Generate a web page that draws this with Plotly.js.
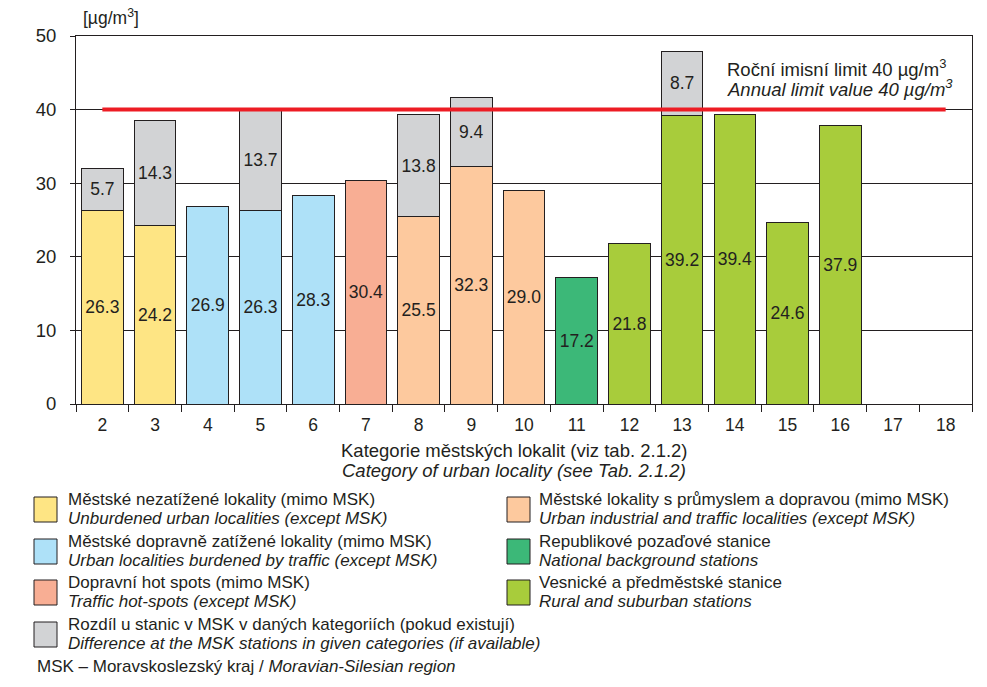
<!DOCTYPE html>
<html>
<head>
<meta charset="utf-8">
<script src="https://cdn.plot.ly/plotly-3.0.1.min.js"></script>
<style>html,body{margin:0;padding:0;background:#fff;}#chart{width:987px;height:687px;}</style>
</head>
<body>
<div id="chart"></div>
<script>
// ---- data ----
const categories = ['2','3','4','5','6','7','8','9','10','11','12','13','14','15','16','17','18'];
const baseValues = [26.3, 24.2, 26.9, 26.3, 28.3, 30.4, 25.5, 32.3, 29.0, 17.2, 21.8, 39.2, 39.4, 24.6, 37.9, null, null];
const mskDifference = [5.7, 14.3, null, 13.7, null, null, 13.8, 9.4, null, null, null, 8.7, null, null, null, null, null];
const groupIndex = [0, 0, 1, 1, 1, 2, 3, 3, 3, 4, 5, 5, 5, 5, 5, null, null];
const groupNamesCz = [
  'Městské nezatížené lokality (mimo MSK)',
  'Městské dopravně zatížené lokality (mimo MSK)',
  'Dopravní hot spots (mimo MSK)',
  'Městské lokality s průmyslem a dopravou (mimo MSK)',
  'Republikové pozaďové stanice',
  'Vesnické a předměstské stanice'
];
const groupNamesEn = [
  'Unburdened urban localities (except MSK)',
  'Urban localities burdened by traffic (except MSK)',
  'Traffic hot-spots (except MSK)',
  'Urban industrial and traffic localities (except MSK)',
  'National background stations',
  'Rural and suburban stations'
];
const diffNameCz = 'Rozdíl u stanic v MSK v daných kategoriích (pokud existují)';
const diffNameEn = 'Difference at the MSK stations in given categories (if available)';
const limitValue = 40;
const limitRange = ['2', '18'];
const yTicks = [0, 10, 20, 30, 40, 50];

// ---- styles ----
const groupColors = ['#fee584', '#aee1f8', '#f8ae94', '#fdc99e', '#3cb878', '#a8cc3b'];
const diffColor = '#d2d3d5';
const ink = '#231f20';
const FONT = 'Liberation Sans, Arial, sans-serif';

// layout geometry (pixels)
const W = 987, H = 687;
const L = 76, R = 972, T = 36, B = 404;
const px = x => (x - L) / (R - L);
const py = y => (B - y) / (B - T);

// keep only existing values per trace
const baseIdx = categories.map((c, i) => i).filter(i => baseValues[i] !== null);
const diffIdx = categories.map((c, i) => i).filter(i => mskDifference[i] !== null);

const barText = { family: FONT, size: 17.5, color: ink };
const traces = [
  {
    type: 'bar', x: baseIdx.map(i => categories[i]), y: baseIdx.map(i => baseValues[i]),
    marker: { color: baseIdx.map(i => groupColors[groupIndex[i]]), line: { color: ink, width: 1 } },
    texttemplate: '%{y:.1f}', textposition: 'inside', insidetextanchor: 'middle',
    textfont: barText, textangle: 0, constraintext: 'none',
    hoverinfo: 'x+y', showlegend: false
  },
  {
    type: 'bar', x: diffIdx.map(i => categories[i]), y: diffIdx.map(i => mskDifference[i]),
    marker: { color: diffColor, line: { color: ink, width: 1 } },
    texttemplate: '%{y:.1f}', textposition: 'inside', insidetextanchor: 'middle',
    textfont: barText, textangle: 0, constraintext: 'none',
    hoverinfo: 'x+y', showlegend: false
  },
  {
    type: 'scatter', mode: 'lines', x: limitRange, y: [limitValue, limitValue],
    line: { color: '#ed1c24', width: 4 }, hoverinfo: 'skip', showlegend: false
  }
];

const annotations = [];
const shapes = [];
function txt(text, x, y, size, opts) {
  annotations.push(Object.assign({
    text: text, xref: 'paper', yref: 'paper', x: px(x), y: py(y),
    xanchor: 'left', yanchor: 'middle', showarrow: false, borderpad: 0,
    font: { family: FONT, size: size, color: ink }
  }, opts || {}));
}
// unit
txt('[µg/m<sup>3</sup>]', 82, 17, 17.5);
// limit label
txt('Roční imisní limit 40 µg/m<sup>3</sup>', 726, 68, 18.5);
txt('<i>Annual limit value 40 µg/m<sup>3</sup></i>', 726, 88, 18.5);
// x axis title
txt('Kategorie městských lokalit (viz tab. 2.1.2)', 514, 450, 18.5, { xanchor: 'center' });
txt('<i>Category of urban locality (see Tab. 2.1.2)</i>', 514, 470, 18.5, { xanchor: 'center' });

// legend
const LEG = 17;
function legendEntry(color, cz, en, sx, tx, top) {
  shapes.push({ type: 'rect', xref: 'paper', yref: 'paper',
    x0: px(sx), x1: px(sx + 23), y0: py(top), y1: py(top + 25),
    fillcolor: color, line: { color: ink, width: 1 } });
  txt(cz, tx, top + 2.5, LEG);
  txt('<i>' + en + '</i>', tx, top + 21, LEG);
}
const rowTops = [497, 539, 580, 622];
[0, 1, 2].forEach((g, i) => legendEntry(groupColors[g], groupNamesCz[g], groupNamesEn[g], 34, 67, rowTops[i]));
legendEntry(diffColor, diffNameCz, diffNameEn, 34, 67, rowTops[3]);
[3, 4, 5].forEach((g, i) => legendEntry(groupColors[g], groupNamesCz[g], groupNamesEn[g], 507, 538, rowTops[i]));
txt('MSK – Moravskoslezský kraj / <i>Moravian-Silesian region</i>', 36, 666, LEG);

const layout = {
  width: W, height: H,
  margin: { l: L, r: W - R, t: T, b: H - B, pad: 0 },
  paper_bgcolor: '#fff', plot_bgcolor: '#fff',
  barmode: 'stack', bargap: 0.21,
  font: { family: FONT, color: ink },
  showlegend: false,
  xaxis: {
    type: 'category', categoryorder: 'array', categoryarray: categories, range: [-0.5, categories.length - 0.5],
    tickson: 'boundaries', ticks: 'outside', ticklen: 7, tickwidth: 1, tickcolor: ink,
    showline: true, linecolor: ink, linewidth: 1, mirror: true, showgrid: false,
    tickfont: { family: FONT, size: 17.5, color: ink }, ticklabelstandoff: 5, fixedrange: true
  },
  yaxis: {
    range: [0, 50], tickvals: yTicks, ticks: 'outside', ticklen: 5, tickwidth: 1, tickcolor: ink,
    showline: true, linecolor: ink, linewidth: 1, mirror: true,
    showgrid: true, gridcolor: ink, gridwidth: 1, zeroline: false,
    tickfont: { family: FONT, size: 18.5, color: ink }, ticklabelstandoff: 10, fixedrange: true
  },
  annotations: annotations,
  shapes: shapes
};

Plotly.newPlot('chart', traces, layout, { displayModeBar: false, staticPlot: true });
</script>
</body>
</html>
